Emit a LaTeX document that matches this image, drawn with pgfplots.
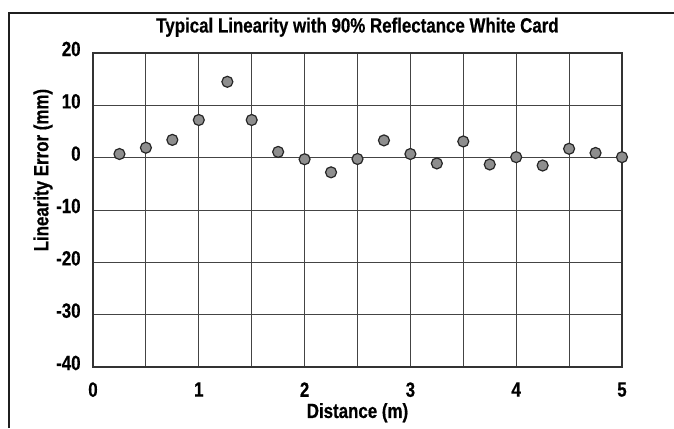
\documentclass[border=0pt]{standalone}
\usepackage{fontspec}
\setmainfont{Liberation Sans}[FakeStretch=0.82, BoldFeatures={FakeBold=0.5}]
\usepackage{pgfplots}
\pgfplotsset{compat=1.18}
\definecolor{dotgray}{HTML}{8E8E8E}
\definecolor{gridgray}{HTML}{444444}
\newcommand{\chfont}{\fontsize{10.3}{12}\selectfont\bfseries}
\begin{document}
\chfont
\begin{tikzpicture}
\useasboundingbox (0,0) rectangle (337pt,214pt);
\draw[line width=1pt, color=black!88] (4.25pt,0) -- (4.25pt,207.5pt) -- (337pt,207.5pt);
\begin{axis}[
  at={(46.5pt,30.5pt)}, anchor=south west,
  scale only axis, width=264.5pt, height=157pt,
  xmin=0, xmax=5, ymin=-40, ymax=20,
  xtick={0,1,2,3,4,5},
  minor xtick={0.5,1.5,2.5,3.5,4.5},
  ytick={-40,-30,-20,-10,0,10,20},
  grid=both,
  major grid style={color=gridgray, line width=0.5pt},
  minor grid style={color=gridgray, line width=0.5pt},
  major tick length=0pt, minor tick length=0pt,
  axis line style={color=black!80, line width=0.8pt},
  /pgf/number format/assume math mode=true,
  ticklabel style={font=\chfont},
  yticklabel style={anchor=east, inner sep=0pt, xshift=-6pt, yshift=2pt},
  xticklabel style={anchor=north, inner sep=0pt, yshift=-7.5pt},
  title={Typical Linearity with 90\% Reflectance White Card},
  title style={at={(axis description cs:0.5,1.0271)}, anchor=base, inner sep=0pt, yshift=0pt, font=\chfont},
  xlabel={Distance (m)},
  xlabel style={at={(axis description cs:0.5,-0.1624)}, anchor=base, inner sep=0pt, font=\chfont},
  ylabel={Linearity Error (mm)},
  ylabel style={at={(axis description cs:-0.0945,0.627)}, anchor=center, inner sep=0pt, font=\chfont},
  clip=false,
]
\addplot[only marks, mark=*, mark size=2.75pt, mark options={fill=dotgray, draw=black!85, line width=0.6pt}] coordinates {
(0.25,0.7) (0.5,1.9) (0.75,3.4) (1.0,7.2) (1.27,14.5) (1.5,7.2)
(1.75,1.1) (2.0,-0.3) (2.25,-2.8) (2.5,-0.25) (2.75,3.3) (3.0,0.7)
(3.25,-1.1) (3.5,3.1) (3.75,-1.3) (4.0,0.1) (4.25,-1.5) (4.5,1.7)
(4.75,0.9) (5.0,0.1)
};
\end{axis}
\end{tikzpicture}
\end{document}
